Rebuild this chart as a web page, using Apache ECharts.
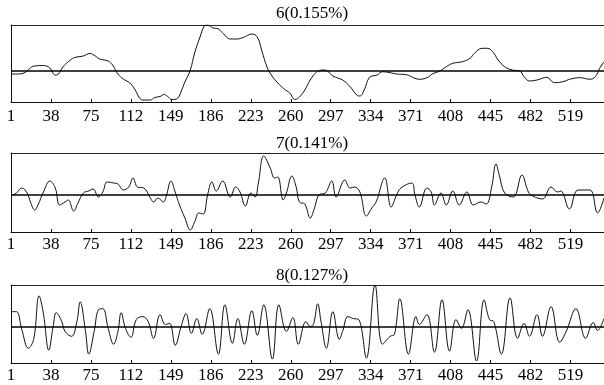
<!DOCTYPE html>
<html><head><meta charset="utf-8">
<script src="https://cdn.jsdelivr.net/npm/echarts@6/dist/echarts.min.js"></script>
<style>html,body{margin:0;padding:0;background:#fff}#c{width:604px;height:385px}</style>
</head><body><div id="c"></div>
<script>
// Panel titles
const titles = ['6(0.155%)', '7(0.141%)', '8(0.127%)'];
// x-axis: sample numbers, ticks every 37 starting at 1 (1, 38, 75, ... 519)
const xFirst = 1, xStep = 37, xLast = 550;

// Series values as [sample, value]
const series6 = [[1,-3],[9,-3],[13,-2],[16,0],[20,4],[23,5],[30,5.5],[34,5],[37,3],[42,-4],[45,-3],[49,4],[56,11],[60,13.5],[68,15],[74,17.5],[79,15],[83,12],[91,10],[95,6],[100,-3],[105,-8],[111,-12],[116,-19],[120,-27],[123,-29],[130,-29],[134,-26.5],[139,-25.5],[143,-23.5],[146,-25.5],[150,-28.5],[155,-27.5],[159,-19],[162,-11],[167,1],[171,18],[176,34],[180,45],[183,46],[188,43],[192,42.5],[197,38],[204,32],[210,32],[216,33.5],[224,37],[229,34],[233,21],[238,4],[242,-4],[248,-12],[254,-18],[259,-22],[264,-28.5],[268,-26],[273,-19],[278,-9],[284,-1],[290,1],[294,0],[299,-5],[308,-9],[315,-15.7],[321,-24],[324,-25],[328,-19],[333,-6.3],[340,-4],[345,-0.7],[352,-1.7],[358,-3],[367,-3.7],[375,-7.3],[379,-8.3],[387,-6.3],[391,-3],[398,0],[404,4.3],[410,7.7],[419,9.3],[426,12.7],[430,17.7],[437,22.7],[442,22.7],[447,19.3],[452,11],[458,4.3],[465,1],[472,0],[476,-5.7],[481,-10],[488,-9],[497,-6.3],[504,-11.7],[512,-10.7],[519,-8],[528,-6.7],[537,-8.3],[542,-5.7],[546,2.7],[550,9.3]];

const series7 = [[1,-1],[6,2],[11,7],[16,2],[19,-7],[23,-15],[26,-10],[31,3],[37,14],[42,7],[46,-10],[51,-7],[54,-5],[59,-16],[63,-8],[68,2],[73,4],[77,6],[82,-2],[86,3],[90,13],[96,12],[100,11],[105,5],[110,8],[114,17],[118,8],[124,7],[130,-3],[133,-7],[137,-3],[142,-7],[145,0],[149,14],[153,3],[157,-10],[162,-23],[167,-35],[171,-27],[175,-18],[179,-19],[183,0],[187,13],[191,4],[197,14],[204,-2],[209,8],[213,3],[218,-11],[223,2],[227,-2],[230,12],[235,39],[241,27],[245,17],[248,18],[253,-5],[256,2],[261,19],[265,8],[268,-7],[273,-9],[278,-23],[282,-13],[286,0],[292,2],[298,14],[302,-2],[310,15],[315,7],[319,8],[324,3],[330,-21],[335,-13],[339,-7],[347,17],[353,-12],[358,0],[362,7],[372,12],[375,0],[379,-12],[386,7],[390,3],[393,-10],[399,2],[404,-10],[410,4],[416,-10],[423,3],[429,-10],[436,-7],[441,-9],[446,8],[450,31],[453,20],[458,2],[466,-2],[474,20],[480,3],[484,-1],[493,-4],[501,8],[507,3],[510,4],[518,-14],[526,5],[537,5],[544,-18],[550,-3]];

const series8 = [[1,15],[6,15],[11,-3],[17,-22],[22,-13],[27,31],[31,13],[36,-24],[40,0],[43,14],[48,5],[51,-5],[57,-10],[62,5],[65,25],[70,-5],[73,-28],[78,-5],[82,17],[86,18],[91,-2],[96,-18],[100,-5],[103,14],[107,-2],[112,-11],[117,7],[123,10],[128,5],[133,-12],[139,12],[144,2],[148,3],[153,-19],[159,2],[163,13],[168,-7],[173,8],[178,-8],[185,18],[193,-28],[199,22],[206,-17],[211,8],[217,-18],[224,16],[229,-9],[235,22],[243,-33],[249,22],[256,-5],[262,9],[267,-18],[274,5],[278,0],[281,2],[285,23],[288,5],[293,-22],[299,15],[305,-13],[308,-5],[313,10],[318,8],[323,7],[330,-32],[338,42],[345,-18],[352,-10],[356,-8],[361,28],[369,-28],[376,10],[379,2],[386,12],[393,-26],[400,27],[407,-25],[413,7],[418,-2],[424,17],[432,-35],[439,27],[444,7],[448,5],[455,-28],[463,29],[470,-12],[476,3],[481,-10],[488,12],[493,-10],[501,20],[509,-16],[515,-5],[524,18],[533,-12],[540,4],[544,-4],[550,8]];

const allSeries = [series6, series7, series8];
const yRanges = [[-31, 46], [-37, 42], [-37, 42]];

// layout
const font = '"Liberation Serif", "Times New Roman", serif';
const grids = [{top: 25, height: 77}, {top: 153, height: 79}, {top: 285, height: 78}];
const titleTops = [5, 135, 267];
const labelMargins = [6, 4, 4];

const chart = echarts.init(document.getElementById('c'), null, {renderer: 'canvas'});
const option = {
  backgroundColor: '#fff',
  animation: false,
  title: titles.map((t, k) => ({
    text: t, left: 312, top: titleTops[k], textAlign: 'center', padding: 0,
    textStyle: {fontFamily: font, fontSize: 17, fontWeight: 'normal', color: '#000'}
  })),
  grid: grids.map(g => ({left: 11, right: 0, top: g.top, height: g.height})),
  xAxis: [],
  yAxis: [],
  series: []
};
for (let k = 0; k < 3; k++) {
  // bottom axis, value shifted so that sample 1 sits at 0 (ticks counted from min)
  option.xAxis.push({
    type: 'value', gridIndex: k, min: 0, max: xLast - xFirst, interval: xStep,
    axisLine: {show: true, onZero: false, lineStyle: {color: '#111', width: 1}},
    axisTick: {show: true, inside: true, length: 3, lineStyle: {color: '#111'}},
    axisLabel: {
      show: true, margin: labelMargins[k], color: '#000', fontFamily: font, fontSize: 17,
      showMaxLabel: false,
      formatter: v => (v % xStep === 0 ? String(v + xFirst) : '')
    },
    splitLine: {show: false}
  });
  // top border
  option.xAxis.push({
    type: 'value', gridIndex: k, position: 'top', min: 0, max: xLast - xFirst,
    axisLine: {show: true, onZero: false, lineStyle: {color: '#222', width: 1}},
    axisTick: {show: false}, axisLabel: {show: false}, splitLine: {show: false}
  });
  option.yAxis.push({
    type: 'value', gridIndex: k, min: yRanges[k][0], max: yRanges[k][1],
    axisLine: {show: true, onZero: false, lineStyle: {color: '#111', width: 1}},
    axisTick: {show: false}, axisLabel: {show: false}, splitLine: {show: false}
  });
  option.series.push({
    type: 'line', xAxisIndex: k * 2, yAxisIndex: k,
    data: allSeries[k].map(p => [p[0] - xFirst, p[1]]),
    smooth: 0.4, showSymbol: false, symbol: 'none', clip: true,
    lineStyle: {color: '#111', width: 1},
    markLine: {
      silent: true, symbol: 'none', label: {show: false},
      lineStyle: {color: '#000', width: 1.5, type: 'solid'},
      data: [{yAxis: 0}]
    }
  });
}
chart.setOption(option);
</script>
</body></html>
